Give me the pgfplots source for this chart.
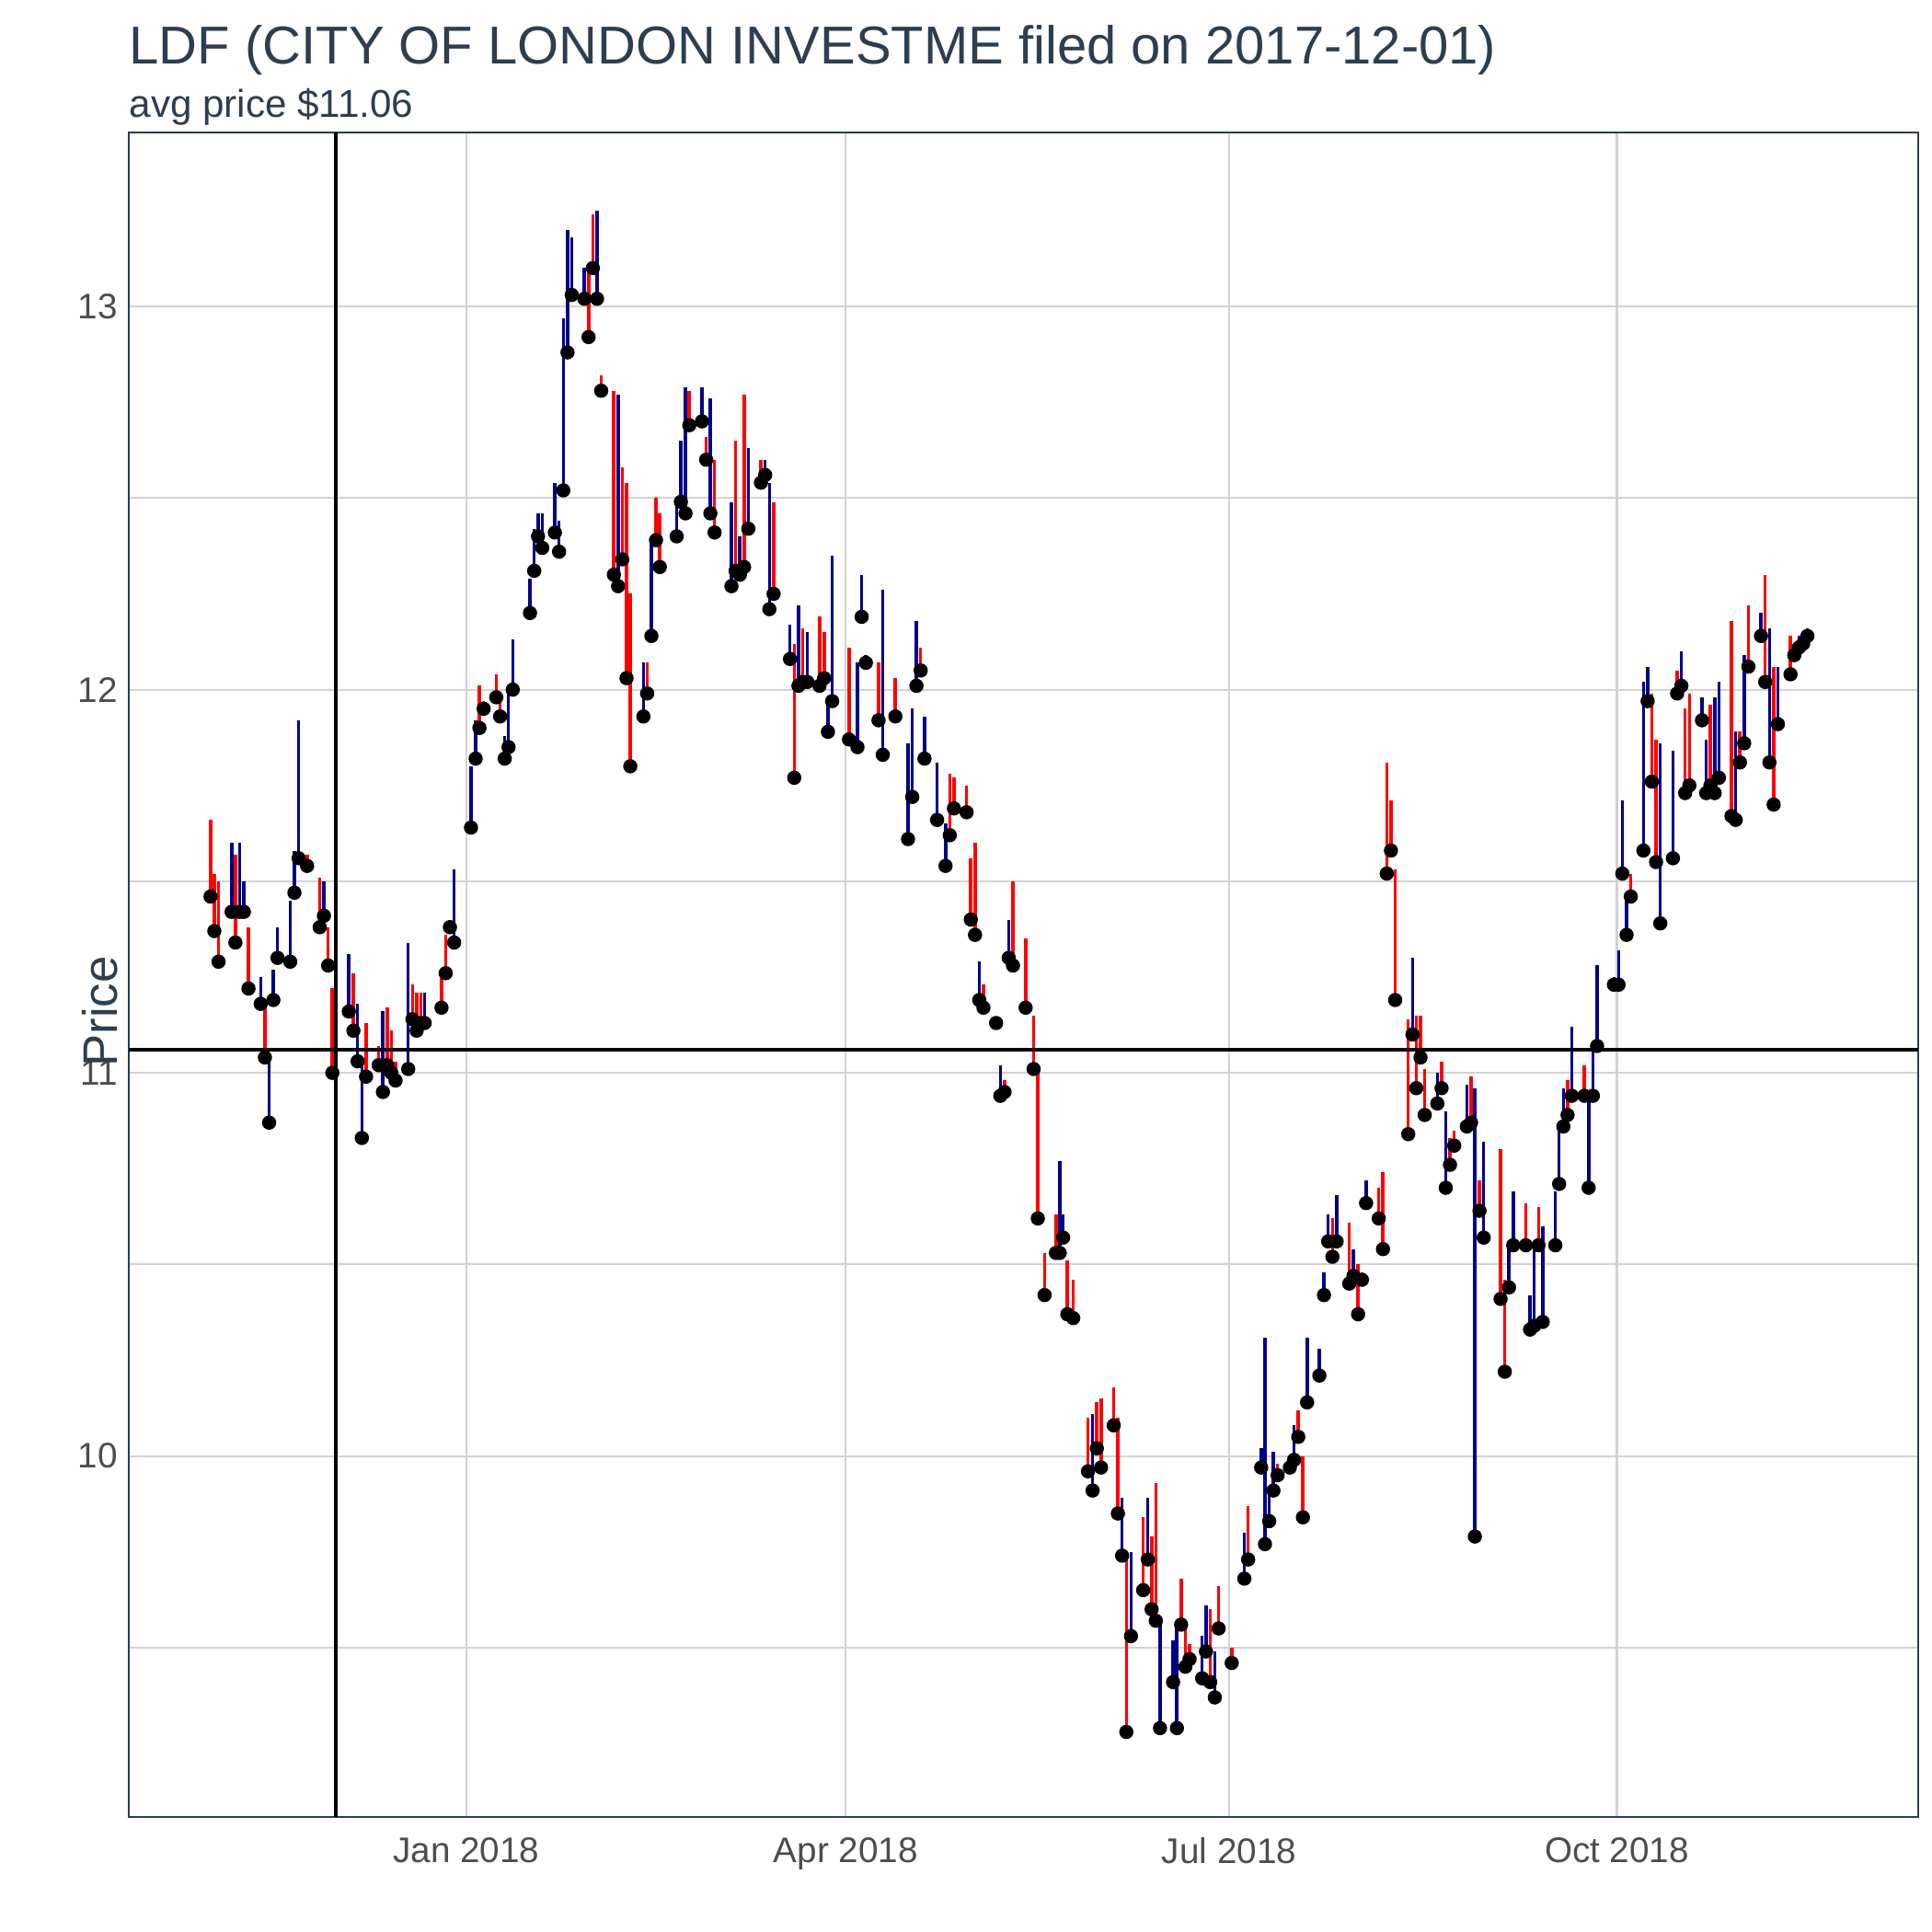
\documentclass[border=0pt]{standalone}
\usepackage{pgfplots}
\usepackage{pgfplotstable}
\pgfplotsset{compat=1.18}
\usepackage{fontspec}
\setmainfont{Liberation Sans}
\definecolor{navyb}{RGB}{0,0,139}
\definecolor{titlec}{RGB}{44,62,80}
\definecolor{tickc}{RGB}{77,77,77}
\definecolor{gridc}{RGB}{210,210,210}
\pgfplotstableread{
d hi lo
-60.7 11.66 11.46
-59.8 11.52 11.37
-58.8 11.50 11.29
-54.8 11.57 11.34
-51.7 11.38 11.22
-47.8 11.19 11.04
-37.8 11.57 11.54
-34.8 11.51 11.38
-32.8 11.38 11.28
-31.8 11.22 11.00
-26.8 11.26 11.11
-23.8 11.13 10.99
-20.8 11.07 11.02
-18.8 11.17 11.02
-17.8 11.11 11.00
-16.8 11.03 10.98
-12.8 11.23 11.14
-11.8 11.21 11.11
-10.8 11.21 11.13
-5.9 11.26 11.17
-4.9 11.36 11.26
-3.9 11.40 11.38
3.1 12.01 11.90
4.1 11.97 11.95
7.1 12.04 11.98
8.0 11.99 11.93
29.0 13.10 12.92
30.0 13.24 13.10
32.0 12.82 12.78
35.0 12.78 12.30
37.0 12.58 12.34
38.0 12.54 12.03
38.9 12.25 11.80
42.9 12.07 11.99
45.0 12.50 12.39
45.9 12.46 12.32
52.9 12.78 12.69
56.9 12.66 12.60
58.9 12.60 12.41
63.9 12.65 12.31
65.9 12.77 12.32
69.9 12.60 12.54
72.9 12.49 12.25
77.8 12.12 11.77
79.8 12.16 12.02
83.8 12.19 12.01
84.9 12.15 12.03
90.8 12.11 11.87
97.8 12.07 11.92
101.8 12.03 11.93
107.8 12.11 12.05
114.7 11.78 11.62
115.7 11.77 11.69
118.7 11.75 11.68
119.7 11.56 11.40
120.7 11.60 11.36
122.7 11.23 11.17
125.7 11.14 11.13
127.7 10.98 10.95
129.7 11.50 11.28
132.7 11.35 11.17
134.6 11.15 11.01
135.6 11.00 10.62
137.2 10.53 10.42
139.9 10.63 10.53
142.6 10.51 10.37
144.0 10.46 10.36
147.5 10.10 9.96
149.6 10.14 10.02
150.6 10.15 9.97
153.6 10.18 10.08
154.6 10.10 9.85
156.6 9.74 9.28
160.6 9.84 9.65
162.6 9.79 9.60
163.6 9.93 9.57
169.6 9.68 9.56
170.6 9.55 9.45
171.6 9.51 9.47
176.5 9.60 9.41
178.5 9.66 9.55
181.6 9.50 9.46
185.5 9.87 9.73
192.5 9.98 9.95
197.4 10.12 10.05
198.5 10.00 9.84
205.5 10.62 10.52
209.5 10.61 10.45
211.6 10.50 10.37
212.5 10.48 10.46
216.5 10.70 10.62
217.5 10.74 10.54
218.4 11.81 11.52
219.4 11.71 11.58
220.4 11.53 11.19
223.5 11.14 10.84
225.4 11.15 10.96
226.4 11.15 11.04
227.4 11.01 10.89
231.4 11.03 10.96
233.4 10.83 10.76
234.4 10.85 10.81
238.4 10.99 10.87
240.4 10.72 10.64
245.4 10.80 10.41
246.4 10.46 10.22
251.4 10.66 10.55
254.4 10.65 10.55
261.3 10.98 10.89
265.3 11.02 10.94
276.3 11.52 11.46
281.3 11.99 11.76
282.3 11.87 11.55
287.3 12.05 11.99
289.2 11.95 11.73
290.2 11.99 11.75
295.2 11.96 11.75
300.2 12.18 11.67
302.2 11.89 11.81
304.2 12.22 12.06
308.2 12.30 12.02
310.2 12.06 11.70
314.2 12.14 12.04
315.1 12.12 12.09
}\reddata
\pgfplotstableread{
d hi lo
-55.7 11.60 11.42
-53.8 11.60 11.42
-52.8 11.50 11.42
-48.8 11.25 11.18
-46.8 11.05 10.87
-45.8 11.27 11.19
-44.8 11.38 11.30
-41.8 11.45 11.29
-40.8 11.58 11.47
-39.8 11.92 11.56
-33.8 11.50 11.41
-27.9 11.31 11.16
-25.8 11.18 11.03
-24.8 11.02 10.83
-19.8 11.16 10.95
-13.8 11.34 11.01
-9.9 11.21 11.13
-2.9 11.53 11.34
1.1 11.80 11.64
2.2 11.92 11.82
9.1 11.88 11.82
10.0 12.00 11.85
11.0 12.13 12.00
15.1 12.29 12.20
16.1 12.42 12.31
17.0 12.46 12.40
18.0 12.46 12.37
21.0 12.54 12.41
22.0 12.44 12.36
23.0 12.97 12.52
24.0 13.20 12.88
25.0 13.18 13.03
28.0 13.10 13.02
31.0 13.25 13.02
36.0 12.77 12.27
42.0 12.07 11.93
43.9 12.38 12.14
49.9 12.49 12.40
50.9 12.65 12.49
52.0 12.79 12.46
55.9 12.79 12.70
57.9 12.76 12.46
62.9 12.49 12.27
64.9 12.40 12.30
66.9 12.63 12.42
70.9 12.60 12.56
71.9 12.54 12.21
76.8 12.17 12.08
78.8 12.22 12.01
80.9 12.15 12.02
85.8 11.97 11.89
86.8 12.35 11.97
92.8 12.07 11.85
93.8 12.30 12.19
94.8 12.09 12.07
98.8 12.26 11.83
104.8 11.86 11.61
105.8 11.95 11.72
106.8 12.18 12.01
108.7 11.93 11.82
111.7 11.81 11.66
113.7 11.65 11.54
121.7 11.29 11.19
126.7 11.02 10.94
128.7 11.40 11.30
140.8 10.77 10.53
141.6 10.63 10.57
148.6 10.11 9.91
155.6 9.89 9.74
157.7 9.75 9.53
161.7 9.89 9.73
164.6 9.56 9.29
167.7 9.52 9.41
168.6 9.56 9.29
174.6 9.53 9.42
175.5 9.61 9.49
177.6 9.49 9.37
184.6 9.80 9.68
188.6 10.02 9.97
189.5 10.31 9.77
190.5 9.92 9.83
191.5 10.01 9.91
195.4 10.00 9.97
196.4 10.08 9.99
199.5 10.31 10.14
202.4 10.28 10.21
203.5 10.48 10.42
204.5 10.63 10.56
206.5 10.68 10.56
210.5 10.54 10.47
213.5 10.72 10.66
224.5 11.30 11.10
230.4 11.00 10.92
232.4 10.90 10.70
237.4 10.97 10.86
239.3 10.96 9.79
241.4 10.82 10.57
247.4 10.56 10.44
248.4 10.69 10.55
252.4 10.42 10.33
253.4 10.56 10.34
255.4 10.60 10.35
258.4 10.69 10.55
259.3 10.86 10.71
260.3 10.96 10.86
262.3 11.12 10.94
266.3 10.94 10.70
267.3 11.07 10.94
268.3 11.28 11.07
272.3 11.25 11.23
273.4 11.32 11.23
274.3 11.71 11.52
275.3 11.45 11.36
279.3 12.02 11.58
280.3 12.06 11.97
283.3 11.86 11.39
286.3 11.84 11.56
288.3 12.10 12.01
293.2 11.98 11.92
294.2 11.87 11.73
296.2 11.98 11.73
297.2 12.02 11.77
301.2 11.89 11.66
303.2 12.09 11.86
307.2 12.20 12.14
309.2 12.16 11.81
311.2 12.06 11.91
316.2 12.14 12.11
317.2 12.14 12.12
318.2 12.16 12.14
}\bluedata
\begin{document}
\begin{tikzpicture}
\useasboundingbox (-1.4cm,-1.25cm) rectangle (19.6cm,19.75cm);
\begin{axis}[
  at={(0,0)}, anchor=south west,
  scale only axis, width=19.45cm, height=18.31cm,
  xmin=-80.1, xmax=344.5, ymin=9.058, ymax=13.454,
  xtick={0,90,181,273},
  xticklabels={Jan 2018,Apr 2018,Jul 2018,Oct 2018},
  ytick={10,11,12,13},
  minor ytick={9.5,10.5,11.5,12.5},
  grid=both,
  major grid style={gridc, line width=0.6pt},
  minor grid style={gridc, line width=0.6pt},
  major tick length=0pt, minor tick length=0pt,
  axis line style={titlec, line width=0.5pt},
  tick label style={font=\fontsize{11}{13}\selectfont, text=tickc},
  /pgf/number format/assume math mode=true,
  ylabel={Price},
  ylabel style={font=\fontsize{15}{17}\selectfont, text=titlec, at={(axis description cs:0,0.5)}, xshift=-0.4cm},
  xticklabel style={yshift=-0.1cm},
  clip=true,
]
\addplot[only marks, mark=none, draw=none,
  error bars/.cd, y dir=plus, y explicit, error mark=none,
  error bar style={red, line width=1.0pt}]
  table[x=d, y=lo, y error expr=\thisrow{hi}-\thisrow{lo}] {\reddata};
\addplot[only marks, mark=none, draw=none,
  error bars/.cd, y dir=plus, y explicit, error mark=none,
  error bar style={navyb, line width=1.0pt}]
  table[x=d, y=lo, y error expr=\thisrow{hi}-\thisrow{lo}] {\bluedata};
\draw[black, line width=1.2pt] (axis cs:-31,9.058) -- (axis cs:-31,13.454);
\draw[black, line width=1.2pt] (axis cs:-80.1,11.06) -- (axis cs:344.5,11.06);
\end{axis}
\node[anchor=base west, text=titlec, font=\fontsize{16.5}{19}\selectfont, inner sep=0pt] at (0cm,19.05cm) {LDF (CITY OF LONDON INVESTME filed on 2017-12-01)};
\node[anchor=base west, text=titlec, font=\fontsize{12}{14}\selectfont, inner sep=0pt] at (0cm,18.47cm) {avg price \$11.06};
\end{tikzpicture}
\end{document}
